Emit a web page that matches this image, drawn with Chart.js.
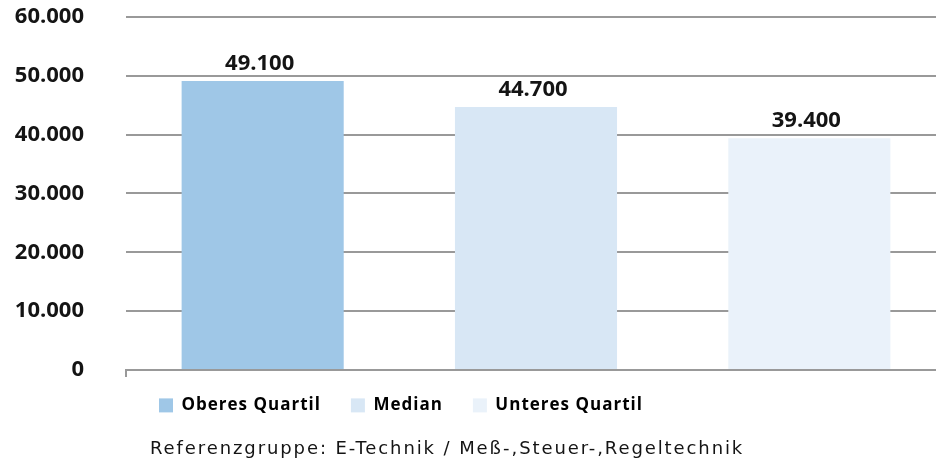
<!DOCTYPE html>
<html lang="de">
<head>
<meta charset="utf-8">
<title>Gehalt Referenzgruppe</title>
<script src="https://cdn.jsdelivr.net/npm/chart.js@4.4.1/dist/chart.umd.min.js"></script>
<style>
    html, body { margin: 0; padding: 0; background: #ffffff; }
    canvas { display: block; }
</style>
</head>
<body>
<canvas id="salaryChart" width="936" height="471"></canvas>
<script>
// Werte aus der Vorlage
const categories = ['Oberes Quartil', 'Median', 'Unteres Quartil'];
const salaries = [49100, 44700, 39400];
const barColors = ['#9fc7e7', '#d8e7f5', '#eaf2fa'];
const yTickValues = [0, 10000, 20000, 30000, 40000, 50000, 60000];
const caption = 'Referenzgruppe: E-Technik / Meß-,Steuer-,Regeltechnik';

const textColor = '#141414';
const gridColor = '#999999';
const fontFamily = '"Open Sans", "DejaVu Sans", sans-serif';
const captionFamily = '"DejaVu Sans", sans-serif';

function formatNumber(value) {
    return String(value).replace(/\B(?=(\d{3})+(?!\d))/g, '.');
}

// Chart.js kennt kein letter-spacing in den Font-Optionen, daher kleiner Wrapper
function withLetterSpacing(box, method, spacing) {
    const original = box[method];
    box[method] = function() {
        const ctx = this.ctx;
        const previous = ctx.letterSpacing;
        ctx.letterSpacing = spacing;
        const result = original.apply(this, arguments);
        ctx.letterSpacing = previous;
        return result;
    };
}

const layoutPlugin = {
    id: 'layoutTweaks',
    afterInit(chart) {
        withLetterSpacing(chart.legend, 'fit', '1px');
        withLetterSpacing(chart.legend, 'draw', '1px');
        withLetterSpacing(chart.titleBlock, 'draw', '1.9px');
    },
    afterLayout(chart) {
        const area = chart.chartArea;

        // im Original laeuft die Zeichenflaeche rechts ueber den Bildrand hinaus
        const x = chart.scales.x;
        x.right += 10;
        x.width += 10;
        x.configure();
        area.right += 10;
        area.width += 10;

        const legend = chart.legend;
        const pad = legend.options.labels.padding;
        legend.left = area.left + 33 - pad;
        legend.top = area.bottom + 27 - pad;

        const title = chart.titleBlock;
        title.left = area.left + 24;
        title.top = area.bottom + 68.5;
    }
};

const barLabels = {
    id: 'barLabels',
    afterDatasetsDraw(chart) {
        const ctx = chart.ctx;
        const meta = chart.getDatasetMeta(0);
        ctx.save();
        ctx.font = 'bold 22px ' + fontFamily;
        ctx.fillStyle = textColor;
        ctx.textAlign = 'center';
        ctx.textBaseline = 'alphabetic';
        meta.data.forEach((bar, i) => {
            ctx.fillText(formatNumber(salaries[i]), bar.x - 3, bar.y - 11);
        });
        ctx.restore();
    }
};

const ctx = document.getElementById('salaryChart').getContext('2d');

const salaryChart = new Chart(ctx, {
    type: 'bar',
    data: {
        labels: categories,
        datasets: [{
            label: 'Gehalt',
            data: salaries,
            backgroundColor: barColors,
            borderWidth: 0,
            categoryPercentage: 1,
            barPercentage: 0.593
        }]
    },
    options: {
        responsive: false,
        animation: false,
        devicePixelRatio: 1,
        layout: {
            padding: { top: 17, right: 0, bottom: 15.5, left: 0 }
        },
        plugins: {
            tooltip: { enabled: false },
            legend: {
                position: 'bottom',
                align: 'start',
                labels: {
                    boxWidth: 14,
                    boxHeight: 14,
                    padding: 30,
                    color: textColor,
                    font: { family: fontFamily, size: 17, weight: 'bold' },
                    generateLabels: () => categories.map((name, i) => ({
                        text: name,
                        fillStyle: barColors[i],
                        strokeStyle: barColors[i],
                        lineWidth: 0,
                        hidden: false,
                        index: i
                    }))
                }
            },
            title: {
                display: true,
                text: caption,
                position: 'bottom',
                align: 'start',
                color: textColor,
                padding: 0,
                font: { family: captionFamily, size: 18, weight: 'normal' }
            }
        },
        scales: {
            x: {
                offset: true,
                ticks: { display: false },
                grid: {
                    offset: true,
                    drawOnChartArea: false,
                    tickLength: 7,
                    lineWidth: 2,
                    color: c => c.index === 0 ? gridColor : 'rgba(0,0,0,0)'
                },
                border: { display: true, color: gridColor, width: 2 }
            },
            y: {
                min: 0,
                max: 60000,
                afterBuildTicks: scale => {
                    scale.ticks = yTickValues.map(v => ({ value: v }));
                },
                afterFit: scale => {
                    scale.width = 126;
                },
                ticks: {
                    padding: 0,
                    color: textColor,
                    font: { family: fontFamily, size: 22, weight: 'bold' },
                    callback: value => formatNumber(value)
                },
                grid: {
                    drawTicks: true,
                    tickLength: 42,
                    tickColor: 'rgba(0,0,0,0)',
                    color: gridColor,
                    lineWidth: 2
                },
                border: { display: false }
            }
        }
    },
    plugins: [layoutPlugin, barLabels]
});
</script>
</body>
</html>
